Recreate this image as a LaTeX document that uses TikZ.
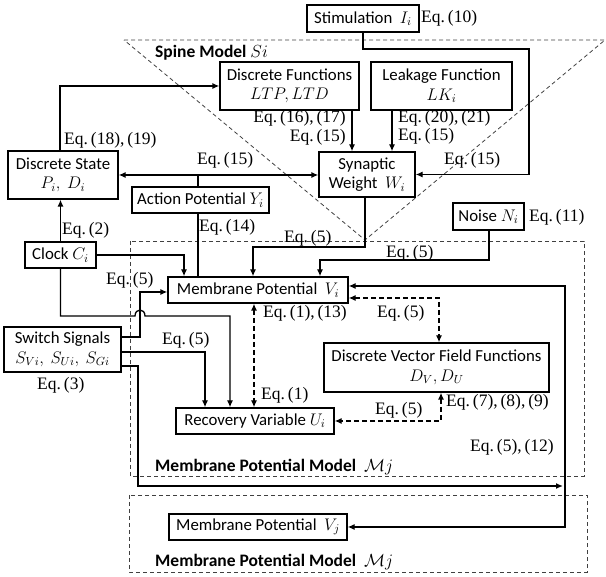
\RequirePackage{fix-cm}
\documentclass[tikz,border=0pt]{standalone}
\usepackage[no-math]{fontspec}
\setmainfont{Carlito}
\newfontfamily\eqfont{Liberation Serif}
\usetikzlibrary{arrows.meta}
\newcommand{\myeq}[1]{{\eqfont Eq.\,#1}}
\tikzset{
 box/.style={draw, line width=1.3pt, inner sep=0pt, align=center, font=\fontsize{16.8}{19.5}\selectfont},
 lbl/.style={inner sep=0pt, font=\fontsize{17.5}{19}\selectfont},
 conn/.style={line width=1.3pt, -{Latex[length=7pt,width=6pt]}},
 conn2/.style={line width=1.3pt, {Latex[length=7pt,width=6pt]}-{Latex[length=7pt,width=6pt]}},
 plain/.style={line width=1.3pt},
 dconn2/.style={conn2, dash pattern=on 5pt off 3pt},
 region/.style={draw=black!75, line width=0.8pt, dash pattern=on 4pt off 3pt},
}
\begin{document}
\begin{tikzpicture}[x=1pt,y=-1pt]
\useasboundingbox (0,0) rectangle (606,577);
% regions
\draw[region] (124,40) -- (605,40) -- (365,240) -- cycle;
\draw[region] (130,241) rectangle (584,476);
\draw[region] (129,495) rectangle (587,572);
% boxes
\node[box, minimum width=112, minimum height=27] (stim) at (363,18.5) {Stimulation\ \ $I_i$};
\node[box, minimum width=139, minimum height=48] (df) at (289.5,86) {Discrete Functions\\$LTP, LTD$};
\node[box, minimum width=141, minimum height=48] (lk) at (441.5,86) {Leakage Function\\$LK_i$};
\node[box, minimum width=96, minimum height=45] (sw) at (367,174.5) {Synaptic\\Weight\ \ $W_i$};
\node[box, minimum width=110, minimum height=48] (ds) at (63,175) {Discrete State\\$P_i,\ D_i$};
\node[box, minimum width=137, minimum height=26] (ap) at (200.5,200) {Action Potential $Y_i$};
\node[box, minimum width=71, minimum height=27] (noise) at (488.5,216.5) {Noise $N_i$};
\node[box, minimum width=71, minimum height=26] (clock) at (60.5,255) {Clock $C_i$};
\node[box, minimum width=180, minimum height=26] (mpi) at (258,290) {Membrane Potential\ \ $V_i$};
\node[box, minimum width=117, minimum height=45] (sws) at (62.5,349.5) {Switch Signals\\$S_{Vi},\ S_{Ui},\ S_{Gi}$};
\node[box, minimum width=225, minimum height=49] (dvf) at (436.5,367.5) {Discrete Vector Field Functions\\$D_V, D_U$};
\node[box, minimum width=158, minimum height=26] (rv) at (255,421) {Recovery Variable $U_i$};
\node[box, minimum width=178, minimum height=26] (vj) at (258,527) {Membrane Potential\ \ $V_j$};
% labels
\node[lbl, anchor=west] (l10) at (421,18) {\myeq{(10)}};
\node[lbl, anchor=west] (lsp) at (155,53) {\textbf{Spine Model} $Si$};
\node[lbl, anchor=east] (l1617) at (346,118) {\myeq{(16),\,(17)}};
\node[lbl, anchor=east] (l15a) at (346,137) {\myeq{(15)}};
\node[lbl, anchor=west] (l2021) at (398,118) {\myeq{(20),\,(21)}};
\node[lbl, anchor=west] (l15b) at (398,136) {\myeq{(15)}};
\node[lbl, anchor=west] (l15c) at (444,160) {\myeq{(15)}};
\node[lbl, anchor=west] (l1819) at (64,140) {\myeq{(18),\,(19)}};
\node[lbl, anchor=west] (l15d) at (197,160) {\myeq{(15)}};
\node[lbl, anchor=west] (l11) at (529,217) {\myeq{(11)}};
\node[lbl, anchor=west] (l5a) at (284,238) {\myeq{(5)}};
\node[lbl, anchor=west] (l5b) at (386,253) {\myeq{(5)}};
\node[lbl, anchor=west] (l14) at (199,227) {\myeq{(14)}};
\node[lbl, anchor=west] (l2) at (62,230) {\myeq{(2)}};
\node[lbl, anchor=west] (l5c) at (106,280) {\myeq{(5)}};
\node[lbl, anchor=west] (l113) at (263,313) {\myeq{(1),\,(13)}};
\node[lbl, anchor=west] (l5d) at (377,313) {\myeq{(5)}};
\node[lbl, anchor=west] (l5e) at (162,340) {\myeq{(5)}};
\node[lbl, anchor=west] (l3) at (37,385) {\myeq{(3)}};
\node[lbl, anchor=west] (l1) at (261,395) {\myeq{(1)}};
\node[lbl, anchor=west] (l5f) at (375,410) {\myeq{(5)}};
\node[lbl, anchor=west] (l789) at (446,402) {\myeq{(7),\,(8),\,(9)}};
\node[lbl, anchor=west] (l512) at (470,447) {\myeq{(5),\,(12)}};
\node[lbl, anchor=west] (lm1) at (155,467) {\textbf{Membrane Potential Model}\ \ $\mathcal{M}j$};
\node[lbl, anchor=west] (lm2) at (155,562) {\textbf{Membrane Potential Model}\ \ $\mathcal{M}j$};
% connectors
\draw[conn] (stim.south) |- (529,49) |- (sw.east);
\draw[conn] (352,0 |- df.south) -- (352,0 |- sw.north);
\draw[conn] (392,0 |- lk.south) -- (392,0 |- sw.north);
\draw[conn] (60,0 |- ds.north) |- (df.west);
\draw[conn2] (ds.east) -- (ds.east -| sw.west);
\draw[plain] (198,0 |- ap.north) -- (198,0 |- ds.east);
\draw[plain] (198,0 |- ap.south) -- (198,0 |- mpi.north);
\draw[conn] (365,0 |- sw.south) |- (253,247) -- (253,0 |- mpi.north);
\draw[conn] (489,0 |- noise.south) |- (320,260) -- (320,0 |- mpi.north);
\draw[conn] (clock.north) -- (clock.north |- ds.south);
\draw[conn] (clock.east) -| (184,0 |- mpi.north);
\draw[conn] (clock.south) |- (135,316) .. controls (135,308) and (145,308) .. (145,316) -| (230,0 |- rv.north);
\draw[conn] (sws.east |- 0,337) -| (140,292) -- (mpi.west |- 0,292);
\draw[conn] (sws.east |- 0,352) -| (205,0 |- rv.north);
\draw[conn] (sws.east |- 0,366) -| (138,486) -- (563,486);
\draw[conn2] (mpi.east |- 0,286) -| (565,527) -- (vj.east);
\draw[dconn2] (mpi.east |- 0,298) -| (439,0 |- dvf.north);
\draw[dconn2] (254,0 |- mpi.south) -- (254,0 |- rv.north);
\draw[dconn2] (441,0 |- dvf.south) |- (rv.east);
\end{tikzpicture}
\end{document}
